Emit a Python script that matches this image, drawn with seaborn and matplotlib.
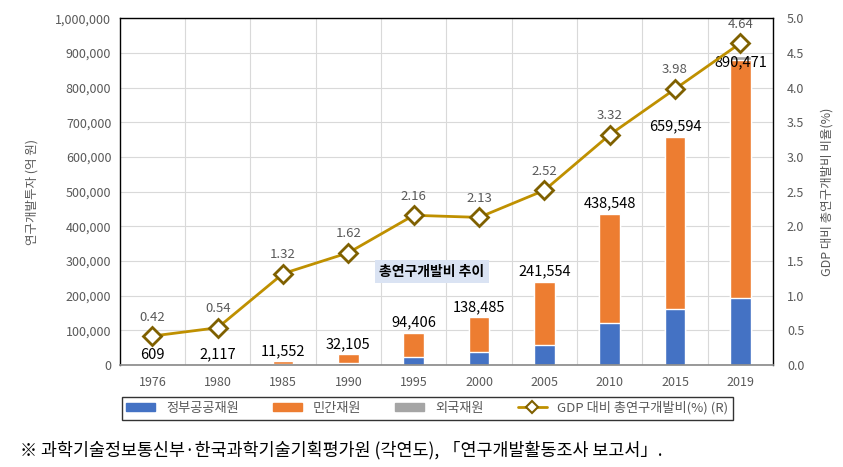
import numpy as np
import pandas as pd
import matplotlib.pyplot as plt
import seaborn as sns
from matplotlib.ticker import FuncFormatter
from matplotlib.patches import Patch
from matplotlib.lines import Line2D

sns.set_theme(style="white")
plt.rcParams['font.family'] = ['Noto Sans CJK KR', 'DejaVu Sans']

# Data (억 원)
years = ['1976', '1980', '1985', '1990', '1995', '2000', '2005', '2010', '2015', '2019']
total = [609, 2117, 11552, 32105, 94406, 138485, 241554, 438548, 659594, 890471]
gov = [400, 800, 3500, 6500, 25000, 39000, 59000, 123000, 163000, 194000]
foreign = [20, 30, 50, 100, 300, 600, 800, 1500, 2000, 11000]
gdp_ratio = [0.42, 0.54, 1.32, 1.62, 2.16, 2.13, 2.52, 3.32, 3.98, 4.64]

legend_labels = ['정부공공재원', '민간재원', '외국재원', 'GDP 대비 총연구개발비(%) (R)']

c_gov = '#4472C4'
c_priv = '#ED7D31'
c_for = '#A5A5A5'
c_line = '#BF9000'
c_edge = '#7F6000'
tick_col = '#595959'

df = pd.DataFrame({'year': years, 'total': total, 'gov': gov, 'foreign': foreign})
df['gov_priv'] = df['total'] - df['foreign']

fig = plt.figure(figsize=(8.43, 4.67), dpi=100)
ax = fig.add_axes([0.142, 0.218, 0.775, 0.743])

# stacked bars: draw cumulative heights back to front
sns.barplot(data=df, x='year', y='total', color=c_for, width=0.32, ax=ax, saturation=1)
sns.barplot(data=df, x='year', y='gov_priv', color=c_priv, width=0.32, ax=ax, saturation=1)
sns.barplot(data=df, x='year', y='gov', color=c_gov, width=0.32, ax=ax, saturation=1)

ax.set_ylim(0, 1000000)
ax.set_xlim(-0.5, len(years) - 0.5)
ax.set_yticks(np.arange(0, 1000001, 100000))
ax.yaxis.set_major_formatter(FuncFormatter(lambda v, p: f'{int(v):,}'))
ax.set_xticks(np.arange(len(years)) + 0.5, minor=True)
ax.grid(True, which='minor', axis='x', color='#D9D9D9', lw=0.8)
ax.grid(True, which='major', axis='y', color='#D9D9D9', lw=0.8)
ax.set_axisbelow(True)
ax.tick_params(axis='x', which='both', length=0, colors=tick_col, labelsize=9, pad=8)
ax.tick_params(axis='y', length=0, colors=tick_col, labelsize=9, pad=6)
ax.set_xlabel('')
ax.set_ylabel('연구개발투자 (억 원)', color=tick_col, fontsize=9, labelpad=12)
for s in ['top', 'left', 'right']:
    ax.spines[s].set_color('#000000')
    ax.spines[s].set_linewidth(1.0)
ax.spines['bottom'].set_color('#8C8C8C')

# bar value labels
for i, t in enumerate(total):
    yy = min(t + 28000, 873000)
    ax.text(i, yy, f'{t:,}', ha='center', va='center', fontsize=10.5, color='black')

# title box
ax.text(0.478, 0.27, '총연구개발비 추이', transform=ax.transAxes, ha='center', va='center',
        fontsize=10, fontweight='bold', color='black',
        bbox=dict(boxstyle='square,pad=0.35', fc='#DAE3F3', ec='none'))

# GDP ratio line on right axis
ax2 = ax.twinx()
pos = np.arange(len(years))
sns.lineplot(x=pos, y=gdp_ratio, ax=ax2, color=c_line, lw=2, marker='D', markersize=9,
             markerfacecolor='white', markeredgecolor=c_edge, markeredgewidth=2)
ax2.set_ylim(0, 5)
ax2.set_yticks(np.arange(0, 5.01, 0.5))
ax2.yaxis.set_major_formatter(FuncFormatter(lambda v, p: f'{v:.1f}'))
ax2.tick_params(axis='y', length=0, colors=tick_col, labelsize=9, pad=10)
ax2.set_ylabel('GDP 대비 총연구개발비 비율(%)', color=tick_col, fontsize=9, rotation=90, labelpad=12)
ax2.grid(False)
for s in ax2.spines.values():
    s.set_visible(False)
ax2.set_xlim(-0.5, len(years) - 0.5)
for i, r in enumerate(gdp_ratio):
    ax2.annotate(f'{r:.2f}', (i, r), xytext=(0, 9), textcoords='offset points',
                 ha='center', va='bottom', fontsize=9.5, color=tick_col)

handles = [Patch(color=c_gov), Patch(color=c_priv), Patch(color=c_for),
           Line2D([0], [0], color=c_line, lw=2, marker='D', markersize=6,
                  markerfacecolor='white', markeredgecolor=c_edge, markeredgewidth=1.5)]
leg = fig.legend(handles, legend_labels, loc='center', bbox_to_anchor=(0.507, 0.126), ncol=4,
                 frameon=True, fancybox=False, edgecolor='black', fontsize=9.5,
                 handlelength=2.2, handleheight=0.6, columnspacing=2.6, borderpad=0.35)
leg.get_frame().set_linewidth(1.0)
for t in leg.get_texts():
    t.set_color(tick_col)

fig.text(0.024, 0.035, '※ 과학기술정보통신부·한국과학기술기획평가원 (각연도), 「연구개발활동조사 보고서」.',
         fontsize=12.5, color='black', ha='left', va='center')

fig.savefig('out.png', dpi=100)
